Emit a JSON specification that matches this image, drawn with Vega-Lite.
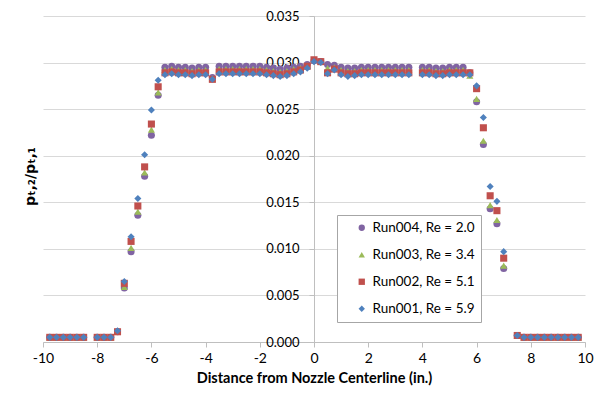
{
  "$schema": "https://vega.github.io/schema/vega-lite/v6.json",
  "width": 542,
  "height": 326,
  "autosize": "none",
  "padding": {"left": 43, "top": 16, "right": 12, "bottom": 56},
  "background": "white",
  "config": {
    "font": "Lato",
    "view": {"stroke": null},
    "axis": {"labelColor": "#000000", "titleColor": "#000000", "labelFontSize": 13, "titleFontSize": 13, "titleFontWeight": "bold", "domainColor": "#bfbfbf", "tickColor": "#bfbfbf", "gridColor": "#d9d9d9", "labelFlush": false}
  },
  "data": {"values": [
    {"x":-9.75,"run":"Run004, Re = 2.0","y":0.0005},{"x":-9.5,"run":"Run004, Re = 2.0","y":0.0005},{"x":-9.25,"run":"Run004, Re = 2.0","y":0.0005},{"x":-9,"run":"Run004, Re = 2.0","y":0.0005},{"x":-8.75,"run":"Run004, Re = 2.0","y":0.0005},{"x":-8.5,"run":"Run004, Re = 2.0","y":0.0005},{"x":-8,"run":"Run004, Re = 2.0","y":0.0005},{"x":-7.75,"run":"Run004, Re = 2.0","y":0.0005},{"x":-7.5,"run":"Run004, Re = 2.0","y":0.0005},{"x":-7.25,"run":"Run004, Re = 2.0","y":0.0011},
    {"x":-7,"run":"Run004, Re = 2.0","y":0.0058},{"x":-6.75,"run":"Run004, Re = 2.0","y":0.0097},{"x":-6.5,"run":"Run004, Re = 2.0","y":0.0136},{"x":-6.25,"run":"Run004, Re = 2.0","y":0.0178},{"x":-6,"run":"Run004, Re = 2.0","y":0.0222},{"x":-5.75,"run":"Run004, Re = 2.0","y":0.0265},
    {"x":-5.5,"run":"Run004, Re = 2.0","y":0.0295},{"x":-5.25,"run":"Run004, Re = 2.0","y":0.0296},{"x":-5,"run":"Run004, Re = 2.0","y":0.0295},{"x":-4.75,"run":"Run004, Re = 2.0","y":0.0295},{"x":-4.5,"run":"Run004, Re = 2.0","y":0.0294},{"x":-4.25,"run":"Run004, Re = 2.0","y":0.0295},{"x":-4,"run":"Run004, Re = 2.0","y":0.0295},{"x":-3.75,"run":"Run004, Re = 2.0","y":0.0284},
    {"x":-3.5,"run":"Run004, Re = 2.0","y":0.0296},{"x":-3.25,"run":"Run004, Re = 2.0","y":0.0296},{"x":-3,"run":"Run004, Re = 2.0","y":0.0296},{"x":-2.75,"run":"Run004, Re = 2.0","y":0.0296},{"x":-2.5,"run":"Run004, Re = 2.0","y":0.0296},{"x":-2.25,"run":"Run004, Re = 2.0","y":0.0296},{"x":-2,"run":"Run004, Re = 2.0","y":0.0296},{"x":-1.75,"run":"Run004, Re = 2.0","y":0.0295},{"x":-1.5,"run":"Run004, Re = 2.0","y":0.0294},{"x":-1.25,"run":"Run004, Re = 2.0","y":0.0293},{"x":-1,"run":"Run004, Re = 2.0","y":0.0294},{"x":-0.75,"run":"Run004, Re = 2.0","y":0.0295},{"x":-0.5,"run":"Run004, Re = 2.0","y":0.0296},{"x":-0.25,"run":"Run004, Re = 2.0","y":0.0298},
    {"x":0,"run":"Run004, Re = 2.0","y":0.0302},{"x":0.25,"run":"Run004, Re = 2.0","y":0.0301},{"x":0.5,"run":"Run004, Re = 2.0","y":0.0298},{"x":0.75,"run":"Run004, Re = 2.0","y":0.0297},{"x":1,"run":"Run004, Re = 2.0","y":0.0295},{"x":1.25,"run":"Run004, Re = 2.0","y":0.0294},{"x":1.5,"run":"Run004, Re = 2.0","y":0.0294},{"x":1.75,"run":"Run004, Re = 2.0","y":0.0295},{"x":2,"run":"Run004, Re = 2.0","y":0.0295},{"x":2.25,"run":"Run004, Re = 2.0","y":0.0295},{"x":2.5,"run":"Run004, Re = 2.0","y":0.0295},{"x":2.75,"run":"Run004, Re = 2.0","y":0.0295},{"x":3,"run":"Run004, Re = 2.0","y":0.0295},{"x":3.25,"run":"Run004, Re = 2.0","y":0.0295},{"x":3.5,"run":"Run004, Re = 2.0","y":0.0295},
    {"x":4,"run":"Run004, Re = 2.0","y":0.0295},{"x":4.25,"run":"Run004, Re = 2.0","y":0.0295},{"x":4.5,"run":"Run004, Re = 2.0","y":0.0294},{"x":4.75,"run":"Run004, Re = 2.0","y":0.0294},{"x":5,"run":"Run004, Re = 2.0","y":0.0295},{"x":5.25,"run":"Run004, Re = 2.0","y":0.0295},{"x":5.5,"run":"Run004, Re = 2.0","y":0.0295},{"x":5.75,"run":"Run004, Re = 2.0","y":0.0289},
    {"x":6,"run":"Run004, Re = 2.0","y":0.0258},{"x":6.25,"run":"Run004, Re = 2.0","y":0.0212},{"x":6.5,"run":"Run004, Re = 2.0","y":0.0143},{"x":6.75,"run":"Run004, Re = 2.0","y":0.0127},{"x":7,"run":"Run004, Re = 2.0","y":0.0079},
    {"x":7.5,"run":"Run004, Re = 2.0","y":0.0007},{"x":7.75,"run":"Run004, Re = 2.0","y":0.0005},{"x":8,"run":"Run004, Re = 2.0","y":0.0005},{"x":8.25,"run":"Run004, Re = 2.0","y":0.0005},{"x":8.5,"run":"Run004, Re = 2.0","y":0.0005},{"x":8.75,"run":"Run004, Re = 2.0","y":0.0005},{"x":9,"run":"Run004, Re = 2.0","y":0.0005},{"x":9.25,"run":"Run004, Re = 2.0","y":0.0005},{"x":9.5,"run":"Run004, Re = 2.0","y":0.0005},{"x":9.75,"run":"Run004, Re = 2.0","y":0.0005},

    {"x":-9.75,"run":"Run003, Re = 3.4","y":0.0005},{"x":-9.5,"run":"Run003, Re = 3.4","y":0.0005},{"x":-9.25,"run":"Run003, Re = 3.4","y":0.0005},{"x":-9,"run":"Run003, Re = 3.4","y":0.0005},{"x":-8.75,"run":"Run003, Re = 3.4","y":0.0005},{"x":-8.5,"run":"Run003, Re = 3.4","y":0.0005},{"x":-8,"run":"Run003, Re = 3.4","y":0.0005},{"x":-7.75,"run":"Run003, Re = 3.4","y":0.0005},{"x":-7.5,"run":"Run003, Re = 3.4","y":0.0005},{"x":-7.25,"run":"Run003, Re = 3.4","y":0.0011},
    {"x":-7,"run":"Run003, Re = 3.4","y":0.0059},{"x":-6.75,"run":"Run003, Re = 3.4","y":0.0101},{"x":-6.5,"run":"Run003, Re = 3.4","y":0.0140},{"x":-6.25,"run":"Run003, Re = 3.4","y":0.0182},{"x":-6,"run":"Run003, Re = 3.4","y":0.0228},{"x":-5.75,"run":"Run003, Re = 3.4","y":0.0268},
    {"x":-5.5,"run":"Run003, Re = 3.4","y":0.0292},{"x":-5.25,"run":"Run003, Re = 3.4","y":0.0293},{"x":-5,"run":"Run003, Re = 3.4","y":0.0292},{"x":-4.75,"run":"Run003, Re = 3.4","y":0.0292},{"x":-4.5,"run":"Run003, Re = 3.4","y":0.0291},{"x":-4.25,"run":"Run003, Re = 3.4","y":0.0292},{"x":-4,"run":"Run003, Re = 3.4","y":0.0292},{"x":-3.75,"run":"Run003, Re = 3.4","y":0.0283},
    {"x":-3.5,"run":"Run003, Re = 3.4","y":0.0293},{"x":-3.25,"run":"Run003, Re = 3.4","y":0.0293},{"x":-3,"run":"Run003, Re = 3.4","y":0.0293},{"x":-2.75,"run":"Run003, Re = 3.4","y":0.0293},{"x":-2.5,"run":"Run003, Re = 3.4","y":0.0293},{"x":-2.25,"run":"Run003, Re = 3.4","y":0.0293},{"x":-2,"run":"Run003, Re = 3.4","y":0.0293},{"x":-1.75,"run":"Run003, Re = 3.4","y":0.0292},{"x":-1.5,"run":"Run003, Re = 3.4","y":0.0291},{"x":-1.25,"run":"Run003, Re = 3.4","y":0.0290},{"x":-1,"run":"Run003, Re = 3.4","y":0.0291},{"x":-0.75,"run":"Run003, Re = 3.4","y":0.0293},{"x":-0.5,"run":"Run003, Re = 3.4","y":0.0294},{"x":-0.25,"run":"Run003, Re = 3.4","y":0.0297},
    {"x":0,"run":"Run003, Re = 3.4","y":0.0303},{"x":0.25,"run":"Run003, Re = 3.4","y":0.0301},{"x":0.5,"run":"Run003, Re = 3.4","y":0.0294},{"x":0.75,"run":"Run003, Re = 3.4","y":0.0295},{"x":1,"run":"Run003, Re = 3.4","y":0.0292},{"x":1.25,"run":"Run003, Re = 3.4","y":0.0291},{"x":1.5,"run":"Run003, Re = 3.4","y":0.0291},{"x":1.75,"run":"Run003, Re = 3.4","y":0.0292},{"x":2,"run":"Run003, Re = 3.4","y":0.0292},{"x":2.25,"run":"Run003, Re = 3.4","y":0.0292},{"x":2.5,"run":"Run003, Re = 3.4","y":0.0292},{"x":2.75,"run":"Run003, Re = 3.4","y":0.0292},{"x":3,"run":"Run003, Re = 3.4","y":0.0292},{"x":3.25,"run":"Run003, Re = 3.4","y":0.0292},{"x":3.5,"run":"Run003, Re = 3.4","y":0.0292},
    {"x":4,"run":"Run003, Re = 3.4","y":0.0292},{"x":4.25,"run":"Run003, Re = 3.4","y":0.0292},{"x":4.5,"run":"Run003, Re = 3.4","y":0.0291},{"x":4.75,"run":"Run003, Re = 3.4","y":0.0291},{"x":5,"run":"Run003, Re = 3.4","y":0.0292},{"x":5.25,"run":"Run003, Re = 3.4","y":0.0292},{"x":5.5,"run":"Run003, Re = 3.4","y":0.0292},{"x":5.75,"run":"Run003, Re = 3.4","y":0.0286},
    {"x":6,"run":"Run003, Re = 3.4","y":0.0261},{"x":6.25,"run":"Run003, Re = 3.4","y":0.0216},{"x":6.5,"run":"Run003, Re = 3.4","y":0.0147},{"x":6.75,"run":"Run003, Re = 3.4","y":0.0131},{"x":7,"run":"Run003, Re = 3.4","y":0.0082},
    {"x":7.5,"run":"Run003, Re = 3.4","y":0.0007},{"x":7.75,"run":"Run003, Re = 3.4","y":0.0005},{"x":8,"run":"Run003, Re = 3.4","y":0.0005},{"x":8.25,"run":"Run003, Re = 3.4","y":0.0005},{"x":8.5,"run":"Run003, Re = 3.4","y":0.0005},{"x":8.75,"run":"Run003, Re = 3.4","y":0.0005},{"x":9,"run":"Run003, Re = 3.4","y":0.0005},{"x":9.25,"run":"Run003, Re = 3.4","y":0.0005},{"x":9.5,"run":"Run003, Re = 3.4","y":0.0005},{"x":9.75,"run":"Run003, Re = 3.4","y":0.0005},

    {"x":-9.75,"run":"Run002, Re = 5.1","y":0.0005},{"x":-9.5,"run":"Run002, Re = 5.1","y":0.0005},{"x":-9.25,"run":"Run002, Re = 5.1","y":0.0005},{"x":-9,"run":"Run002, Re = 5.1","y":0.0005},{"x":-8.75,"run":"Run002, Re = 5.1","y":0.0005},{"x":-8.5,"run":"Run002, Re = 5.1","y":0.0005},{"x":-8,"run":"Run002, Re = 5.1","y":0.0005},{"x":-7.75,"run":"Run002, Re = 5.1","y":0.0005},{"x":-7.5,"run":"Run002, Re = 5.1","y":0.0005},{"x":-7.25,"run":"Run002, Re = 5.1","y":0.0011},
    {"x":-7,"run":"Run002, Re = 5.1","y":0.0063},{"x":-6.75,"run":"Run002, Re = 5.1","y":0.0108},{"x":-6.5,"run":"Run002, Re = 5.1","y":0.0146},{"x":-6.25,"run":"Run002, Re = 5.1","y":0.0188},{"x":-6,"run":"Run002, Re = 5.1","y":0.0234},{"x":-5.75,"run":"Run002, Re = 5.1","y":0.0274},
    {"x":-5.5,"run":"Run002, Re = 5.1","y":0.0289},{"x":-5.25,"run":"Run002, Re = 5.1","y":0.0290},{"x":-5,"run":"Run002, Re = 5.1","y":0.0289},{"x":-4.75,"run":"Run002, Re = 5.1","y":0.0289},{"x":-4.5,"run":"Run002, Re = 5.1","y":0.0288},{"x":-4.25,"run":"Run002, Re = 5.1","y":0.0289},{"x":-4,"run":"Run002, Re = 5.1","y":0.0289},{"x":-3.75,"run":"Run002, Re = 5.1","y":0.0282},
    {"x":-3.5,"run":"Run002, Re = 5.1","y":0.0290},{"x":-3.25,"run":"Run002, Re = 5.1","y":0.0290},{"x":-3,"run":"Run002, Re = 5.1","y":0.0290},{"x":-2.75,"run":"Run002, Re = 5.1","y":0.0290},{"x":-2.5,"run":"Run002, Re = 5.1","y":0.0290},{"x":-2.25,"run":"Run002, Re = 5.1","y":0.0290},{"x":-2,"run":"Run002, Re = 5.1","y":0.0290},{"x":-1.75,"run":"Run002, Re = 5.1","y":0.0289},{"x":-1.5,"run":"Run002, Re = 5.1","y":0.0288},{"x":-1.25,"run":"Run002, Re = 5.1","y":0.0287},{"x":-1,"run":"Run002, Re = 5.1","y":0.0288},{"x":-0.75,"run":"Run002, Re = 5.1","y":0.0290},{"x":-0.5,"run":"Run002, Re = 5.1","y":0.0292},{"x":-0.25,"run":"Run002, Re = 5.1","y":0.0296},
    {"x":0,"run":"Run002, Re = 5.1","y":0.0303},{"x":0.25,"run":"Run002, Re = 5.1","y":0.0301},{"x":0.5,"run":"Run002, Re = 5.1","y":0.0289},{"x":0.75,"run":"Run002, Re = 5.1","y":0.0293},{"x":1,"run":"Run002, Re = 5.1","y":0.0289},{"x":1.25,"run":"Run002, Re = 5.1","y":0.0288},{"x":1.5,"run":"Run002, Re = 5.1","y":0.0288},{"x":1.75,"run":"Run002, Re = 5.1","y":0.0289},{"x":2,"run":"Run002, Re = 5.1","y":0.0289},{"x":2.25,"run":"Run002, Re = 5.1","y":0.0289},{"x":2.5,"run":"Run002, Re = 5.1","y":0.0289},{"x":2.75,"run":"Run002, Re = 5.1","y":0.0289},{"x":3,"run":"Run002, Re = 5.1","y":0.0289},{"x":3.25,"run":"Run002, Re = 5.1","y":0.0289},{"x":3.5,"run":"Run002, Re = 5.1","y":0.0289},
    {"x":4,"run":"Run002, Re = 5.1","y":0.0289},{"x":4.25,"run":"Run002, Re = 5.1","y":0.0289},{"x":4.5,"run":"Run002, Re = 5.1","y":0.0288},{"x":4.75,"run":"Run002, Re = 5.1","y":0.0288},{"x":5,"run":"Run002, Re = 5.1","y":0.0289},{"x":5.25,"run":"Run002, Re = 5.1","y":0.0289},{"x":5.5,"run":"Run002, Re = 5.1","y":0.0289},{"x":5.75,"run":"Run002, Re = 5.1","y":0.0289},
    {"x":6,"run":"Run002, Re = 5.1","y":0.0272},{"x":6.25,"run":"Run002, Re = 5.1","y":0.0230},{"x":6.5,"run":"Run002, Re = 5.1","y":0.0157},{"x":6.75,"run":"Run002, Re = 5.1","y":0.0141},{"x":7,"run":"Run002, Re = 5.1","y":0.0090},
    {"x":7.5,"run":"Run002, Re = 5.1","y":0.0007},{"x":7.75,"run":"Run002, Re = 5.1","y":0.0005},{"x":8,"run":"Run002, Re = 5.1","y":0.0005},{"x":8.25,"run":"Run002, Re = 5.1","y":0.0005},{"x":8.5,"run":"Run002, Re = 5.1","y":0.0005},{"x":8.75,"run":"Run002, Re = 5.1","y":0.0005},{"x":9,"run":"Run002, Re = 5.1","y":0.0005},{"x":9.25,"run":"Run002, Re = 5.1","y":0.0005},{"x":9.5,"run":"Run002, Re = 5.1","y":0.0005},{"x":9.75,"run":"Run002, Re = 5.1","y":0.0005},

    {"x":-9.75,"run":"Run001, Re = 5.9","y":0.0005},{"x":-9.5,"run":"Run001, Re = 5.9","y":0.0005},{"x":-9.25,"run":"Run001, Re = 5.9","y":0.0005},{"x":-9,"run":"Run001, Re = 5.9","y":0.0005},{"x":-8.75,"run":"Run001, Re = 5.9","y":0.0005},{"x":-8.5,"run":"Run001, Re = 5.9","y":0.0005},{"x":-8,"run":"Run001, Re = 5.9","y":0.0005},{"x":-7.75,"run":"Run001, Re = 5.9","y":0.0005},{"x":-7.5,"run":"Run001, Re = 5.9","y":0.0005},{"x":-7.25,"run":"Run001, Re = 5.9","y":0.0012},
    {"x":-7,"run":"Run001, Re = 5.9","y":0.0065},{"x":-6.75,"run":"Run001, Re = 5.9","y":0.0113},{"x":-6.5,"run":"Run001, Re = 5.9","y":0.0154},{"x":-6.25,"run":"Run001, Re = 5.9","y":0.0201},{"x":-6,"run":"Run001, Re = 5.9","y":0.0249},{"x":-5.75,"run":"Run001, Re = 5.9","y":0.0281},
    {"x":-5.5,"run":"Run001, Re = 5.9","y":0.0287},{"x":-5.25,"run":"Run001, Re = 5.9","y":0.0288},{"x":-5,"run":"Run001, Re = 5.9","y":0.0287},{"x":-4.75,"run":"Run001, Re = 5.9","y":0.0287},{"x":-4.5,"run":"Run001, Re = 5.9","y":0.0286},{"x":-4.25,"run":"Run001, Re = 5.9","y":0.0287},{"x":-4,"run":"Run001, Re = 5.9","y":0.0287},{"x":-3.75,"run":"Run001, Re = 5.9","y":0.0282},
    {"x":-3.5,"run":"Run001, Re = 5.9","y":0.0288},{"x":-3.25,"run":"Run001, Re = 5.9","y":0.0288},{"x":-3,"run":"Run001, Re = 5.9","y":0.0288},{"x":-2.75,"run":"Run001, Re = 5.9","y":0.0288},{"x":-2.5,"run":"Run001, Re = 5.9","y":0.0288},{"x":-2.25,"run":"Run001, Re = 5.9","y":0.0288},{"x":-2,"run":"Run001, Re = 5.9","y":0.0288},{"x":-1.75,"run":"Run001, Re = 5.9","y":0.0287},{"x":-1.5,"run":"Run001, Re = 5.9","y":0.0286},{"x":-1.25,"run":"Run001, Re = 5.9","y":0.0285},{"x":-1,"run":"Run001, Re = 5.9","y":0.0286},{"x":-0.75,"run":"Run001, Re = 5.9","y":0.0288},{"x":-0.5,"run":"Run001, Re = 5.9","y":0.0290},{"x":-0.25,"run":"Run001, Re = 5.9","y":0.0294},
    {"x":0,"run":"Run001, Re = 5.9","y":0.0301},{"x":0.25,"run":"Run001, Re = 5.9","y":0.0300},{"x":0.5,"run":"Run001, Re = 5.9","y":0.0288},{"x":0.75,"run":"Run001, Re = 5.9","y":0.0292},{"x":1,"run":"Run001, Re = 5.9","y":0.0287},{"x":1.25,"run":"Run001, Re = 5.9","y":0.0285},{"x":1.5,"run":"Run001, Re = 5.9","y":0.0286},{"x":1.75,"run":"Run001, Re = 5.9","y":0.0287},{"x":2,"run":"Run001, Re = 5.9","y":0.0287},{"x":2.25,"run":"Run001, Re = 5.9","y":0.0287},{"x":2.5,"run":"Run001, Re = 5.9","y":0.0287},{"x":2.75,"run":"Run001, Re = 5.9","y":0.0287},{"x":3,"run":"Run001, Re = 5.9","y":0.0287},{"x":3.25,"run":"Run001, Re = 5.9","y":0.0287},{"x":3.5,"run":"Run001, Re = 5.9","y":0.0287},
    {"x":4,"run":"Run001, Re = 5.9","y":0.0287},{"x":4.25,"run":"Run001, Re = 5.9","y":0.0287},{"x":4.5,"run":"Run001, Re = 5.9","y":0.0286},{"x":4.75,"run":"Run001, Re = 5.9","y":0.0286},{"x":5,"run":"Run001, Re = 5.9","y":0.0287},{"x":5.25,"run":"Run001, Re = 5.9","y":0.0287},{"x":5.5,"run":"Run001, Re = 5.9","y":0.0287},{"x":5.75,"run":"Run001, Re = 5.9","y":0.0287},
    {"x":6,"run":"Run001, Re = 5.9","y":0.0275},{"x":6.25,"run":"Run001, Re = 5.9","y":0.0241},{"x":6.5,"run":"Run001, Re = 5.9","y":0.0167},{"x":6.75,"run":"Run001, Re = 5.9","y":0.0151},{"x":7,"run":"Run001, Re = 5.9","y":0.0097},
    {"x":7.5,"run":"Run001, Re = 5.9","y":0.0007},{"x":7.75,"run":"Run001, Re = 5.9","y":0.0005},{"x":8,"run":"Run001, Re = 5.9","y":0.0005},{"x":8.25,"run":"Run001, Re = 5.9","y":0.0005},{"x":8.5,"run":"Run001, Re = 5.9","y":0.0005},{"x":8.75,"run":"Run001, Re = 5.9","y":0.0005},{"x":9,"run":"Run001, Re = 5.9","y":0.0005},{"x":9.25,"run":"Run001, Re = 5.9","y":0.0005},{"x":9.5,"run":"Run001, Re = 5.9","y":0.0005},{"x":9.75,"run":"Run001, Re = 5.9","y":0.0005}
  ]},
  "mark": {"type": "point", "filled": true, "opacity": 1, "size": 50},
  "encoding": {
    "x": {"field": "x", "type": "quantitative",
      "scale": {"domain": [-10, 10], "nice": false, "zero": false},
      "axis": {"title": "Distance from Nozzle Centerline (in.)", "titleFontSize": 14.5, "values": [-10,-8,-6,-4,-2,0,2,4,6,8,10], "grid": false, "tickSize": 5, "labelPadding": 4, "labelFontSize": 14, "titlePadding": 6, "labelExpr": "datum.value + ''"}},
    "y": {"field": "y", "type": "quantitative",
      "scale": {"domain": [0, 0.035], "nice": false},
      "axis": {"title": "pₜ,₂/pₜ,₁", "titleFont": "DejaVu Sans", "titleFontSize": 14, "values": [0,0.005,0.01,0.015,0.02,0.025,0.03,0.035], "format": ".3f", "grid": true, "offset": -271, "tickSize": 5, "labelPadding": 10, "titleX": -277, "titleY": 160}},
    "color": {"field": "run", "type": "nominal",
      "scale": {"domain": ["Run004, Re = 2.0", "Run003, Re = 3.4", "Run002, Re = 5.1", "Run001, Re = 5.9"], "range": ["#8064A2", "#9BBB59", "#C0504D", "#4F81BD"]},
      "legend": {"title": null, "orient": "none", "legendX": 294, "legendY": 199, "fillColor": "white", "strokeColor": "#a6a6a6", "padding": 6, "rowPadding": 12, "labelFontSize": 13.5, "symbolSize": 40, "symbolOffset": 12, "labelColor": "#000000"}},
    "shape": {"field": "run", "type": "nominal",
      "scale": {"domain": ["Run004, Re = 2.0", "Run003, Re = 3.4", "Run002, Re = 5.1", "Run001, Re = 5.9"], "range": ["circle", "triangle-up", "square", "diamond"]}}
  }
}
